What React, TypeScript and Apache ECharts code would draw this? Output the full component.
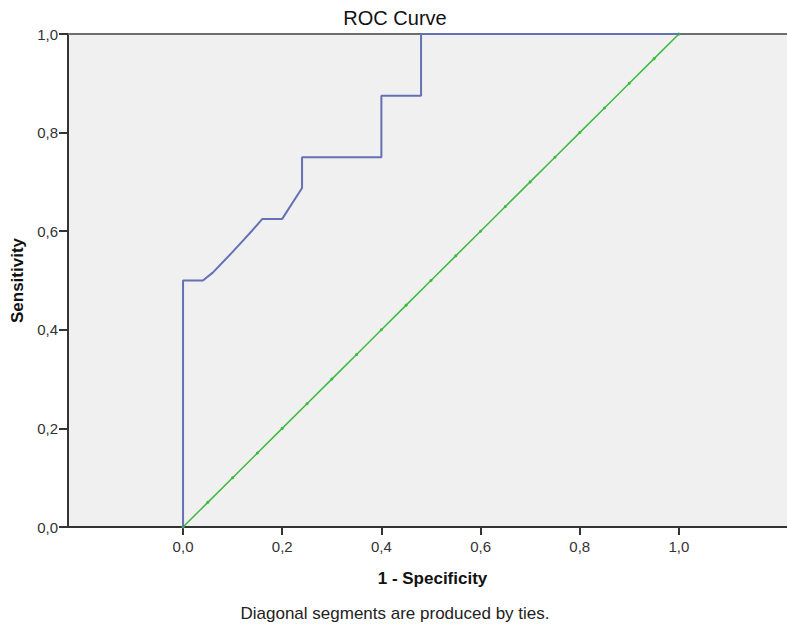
import React, { useEffect, useRef } from "react";
import * as echarts from "echarts";

// ROC curve (1 - Specificity, Sensitivity)
const rocX = [0, 0, 0.04, 0.06, 0.1, 0.12, 0.14, 0.16, 0.2, 0.24, 0.24, 0.4, 0.4, 0.48, 0.48, 1.0];
const rocY = [0, 0.5, 0.5, 0.516, 0.558, 0.58, 0.602, 0.625, 0.625, 0.6875, 0.75, 0.75, 0.875, 0.875, 1.0, 1.0];

// Reference (diagonal) line points
const refX = [0, 0.05, 0.1, 0.15, 0.2, 0.25, 0.3, 0.35, 0.4, 0.45, 0.5, 0.55, 0.6, 0.65, 0.7, 0.75, 0.8, 0.85, 0.9, 0.95, 1.0];
const refY = [0, 0.05, 0.1, 0.15, 0.2, 0.25, 0.3, 0.35, 0.4, 0.45, 0.5, 0.55, 0.6, 0.65, 0.7, 0.75, 0.8, 0.85, 0.9, 0.95, 1.0];

const tickValues = [0, 0.2, 0.4, 0.6, 0.8, 1.0];

const titleText = "ROC Curve";
const xName = "1 - Specificity";
const yName = "Sensitivity";
const footnote = "Diagonal segments are produced by ties.";

const FONT = "'Liberation Sans', Arial, Helvetica, sans-serif";
const fmt = (v: number) => v.toFixed(1).replace(".", ",");

export default function App() {
  const ref = useRef<HTMLDivElement>(null);
  useEffect(() => {
    if (!ref.current) return;
    const chart = echarts.init(ref.current, undefined, { renderer: "svg" });
    chart.setOption({
      animation: false,
      backgroundColor: "#ffffff",
      textStyle: { fontFamily: FONT },
      grid: {
        left: 68,
        right: 0,
        top: 34,
        bottom: 103,
        show: true,
        backgroundColor: "#f0f0f0",
        borderWidth: 0,
      },
      graphic: [
        {
          type: "text",
          x: 395,
          y: 18,
          style: {
            text: titleText,
            font: `20px ${FONT}`,
            fill: "#111",
            textAlign: "center",
            textVerticalAlign: "middle",
          },
        },
        {
          type: "text",
          x: 395,
          y: 613,
          style: {
            text: footnote,
            font: `17px ${FONT}`,
            fill: "#222",
            textAlign: "center",
            textVerticalAlign: "middle",
          },
        },
      ],
      xAxis: [
        {
          type: "value",
          min: -0.232,
          max: 1.218,
          position: "bottom",
          name: xName,
          nameLocation: "middle",
          nameGap: 43,
          nameTextStyle: {
            fontFamily: FONT,
            fontSize: 17,
            fontWeight: "bold",
            color: "#111",
            padding: [0, 0, 0, 10],
          },
          axisLine: { show: true, onZero: false, lineStyle: { color: "#333", width: 2 } },
          axisTick: { show: true, length: 8, customValues: tickValues, lineStyle: { color: "#333", width: 2 } },
          axisLabel: {
            customValues: tickValues,
            formatter: (v: number) => fmt(v),
            margin: 12,
            fontSize: 15,
            color: "#333",
            fontFamily: FONT,
          },
          splitLine: { show: false },
        },
        {
          type: "value",
          min: -0.232,
          max: 1.218,
          position: "top",
          axisLine: { show: true, onZero: false, lineStyle: { color: "#6e6e6e", width: 2 } },
          axisTick: { show: false },
          axisLabel: { show: false },
          splitLine: { show: false },
        },
      ],
      yAxis: {
        type: "value",
        min: 0,
        max: 1,
        interval: 0.2,
        name: yName,
        nameLocation: "middle",
        nameGap: 37,
        nameRotate: 90,
        nameTextStyle: { fontFamily: FONT, fontSize: 17, fontWeight: "bold", color: "#111" },
        axisLine: { show: true, onZero: false, lineStyle: { color: "#333", width: 2 } },
        axisTick: { show: true, length: 9, lineStyle: { color: "#333", width: 2 } },
        axisLabel: {
          formatter: (v: number) => fmt(v),
          margin: 10,
          fontSize: 15,
          color: "#333",
          fontFamily: FONT,
        },
        splitLine: { show: false },
      },
      series: [
        {
          type: "line",
          name: "Reference Line",
          data: refX.map((x, i) => [x, refY[i]]),
          showSymbol: true,
          symbol: "circle",
          symbolSize: 3,
          itemStyle: { color: "#3dba3d" },
          lineStyle: { color: "#3dba3d", width: 1.5 },
          z: 2,
        },
        {
          type: "line",
          name: "ROC",
          data: rocX.map((x, i) => [x, rocY[i]]),
          showSymbol: false,
          lineStyle: { color: "#6471b5", width: 2 },
          z: 3,
        },
      ],
    });
    return () => chart.dispose();
  }, []);
  return (
    <div
      ref={ref}
      style={{ position: "fixed", left: 0, top: 0, width: 787, height: 630 }}
    />
  );
}
